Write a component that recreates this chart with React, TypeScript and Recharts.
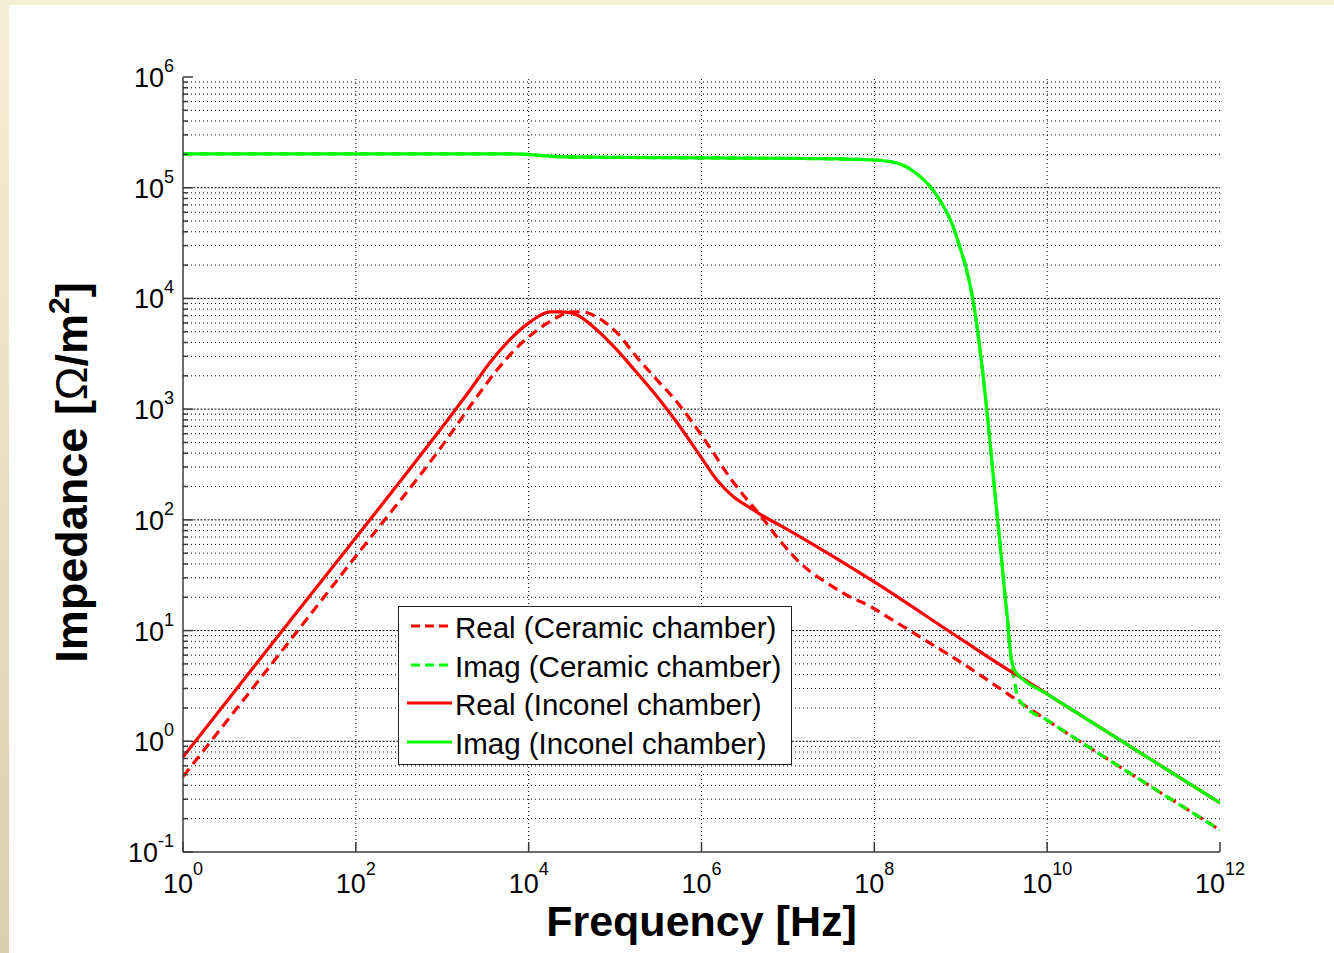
import React from 'react';
import { LineChart, Line, XAxis, YAxis, ReferenceLine, Legend, Label } from 'recharts';

const FONT = '"Liberation Sans", Arial, Helvetica, sans-serif';

// ---- data (frequency in Hz, impedance in Ohm/m^2) ----
const realCeramicFreq = [1, 10, 100, 1e3, 2.51e3, 4.27e3, 7.41e3, 1.26e4, 2.14e4, 3.02e4, 4.27e4, 6.17e4, 1.05e5, 1.78e5, 3.09e5, 5.25e5, 7.94e5, 1.26e6, 2.14e6, 3.16e6, 4.79e6, 7.94e6, 1.38e7, 1.82e7, 2.82e7, 4.79e7, 8.91e7, 1.51e8, 2.57e8, 4.79e8, 9.77e8, 1.82e9, 4.9e9, 1e10, 1e11, 1e12];
const realCeramicZ = [0.48, 4.7, 47, 468, 1290, 2240, 3630, 5190, 6760, 7550, 7550, 6760, 4900, 2950, 1820, 1150, 750, 447, 240, 162, 110, 66, 41, 34, 27, 20.9, 16.6, 12.9, 10, 7.4, 5.25, 3.8, 2.24, 1.55, 0.49, 0.158];

const imagCeramicFreq = [1, 6.31e3, 2.51e4, 1e5, 1e6, 1e7, 3.98e7, 1e8, 1.82e8, 3.39e8, 4.79e8, 6.31e8, 8.13e8, 9.77e8, 1.17e9, 1.38e9, 2.0e9, 2.51e9, 2.88e9, 3.16e9, 3.47e9, 3.72e9, 4.17e9, 4.57e9, 5.25e9, 1e10, 1e11, 1e12];
const imagCeramicZ = [2.02e5, 2.02e5, 1.9e5, 1.88e5, 1.86e5, 1.84e5, 1.82e5, 1.78e5, 1.67e5, 1.26e5, 9.5e4, 6.8e4, 4.5e4, 2.9e4, 1.8e4, 9.8e3, 1000, 160, 56, 26, 12.6, 6.8, 3.6, 2.5, 2.15, 1.55, 0.49, 0.158];

const realInconelFreq = [1, 10, 100, 1e3, 2.09e3, 3.55e3, 6.03e3, 1.05e4, 1.78e4, 2.51e4, 3.63e4, 6.17e4, 1.05e5, 1.78e5, 3.09e5, 5.25e5, 1e6, 1.51e6, 2.34e6, 3.63e6, 4.79e6, 8.13e6, 1.82e7, 1e8, 1e9, 4.07e9, 4.9e9, 1e10, 1e11, 1e12];
const realInconelZ = [0.72, 7.1, 69, 690, 1480, 2630, 4220, 6170, 7550, 7550, 7080, 5190, 3430, 2140, 1290, 750, 363, 229, 162, 129, 112, 89, 62, 27.5, 8.4, 4.14, 3.8, 2.67, 0.86, 0.277];

const imagInconelFreq = [1, 6.31e3, 2.51e4, 1e5, 1e6, 1e7, 3.98e7, 1e8, 1.82e8, 3.39e8, 4.79e8, 6.31e8, 8.13e8, 9.77e8, 1.17e9, 1.38e9, 2.0e9, 2.51e9, 2.88e9, 3.16e9, 3.47e9, 3.72e9, 4.07e9, 4.47e9, 4.9e9, 1e10, 1e11, 1e12];
const imagInconelZ = [2.02e5, 2.02e5, 1.9e5, 1.88e5, 1.86e5, 1.84e5, 1.82e5, 1.78e5, 1.67e5, 1.26e5, 9.5e4, 6.8e4, 4.5e4, 2.9e4, 1.8e4, 9.8e3, 1000, 160, 56, 26, 12.6, 6.8, 4.6, 4.1, 3.8, 2.67, 0.86, 0.277];

const seriesNames = ['Real (Ceramic chamber)', 'Imag (Ceramic chamber)', 'Real (Inconel chamber)', 'Imag (Inconel chamber)'];
const seriesColors = ['#ff0000', '#00ff00', '#ff0000', '#00ff00'];
const seriesDashed = [true, true, false, false];

const xTicks = [1, 1e2, 1e4, 1e6, 1e8, 1e10, 1e12];
const xTickExp = ['0', '2', '4', '6', '8', '10', '12'];
const yMajor = [0.1, 1, 10, 100, 1e3, 1e4, 1e5, 1e6];
const yTickExp = ['-1', '0', '1', '2', '3', '4', '5', '6'];
const yMinorMult = [2, 3, 4, 5, 6, 7, 8, 9];

const zip = (f: number[], z: number[]) => f.map((v, i) => ({ f: v, z: z[i] }));
const seriesData = [
  zip(realCeramicFreq, realCeramicZ),
  zip(imagCeramicFreq, imagCeramicZ),
  zip(realInconelFreq, realInconelZ),
  zip(imagInconelFreq, imagInconelZ),
];

const yAllTicks: number[] = [];
yMajor.forEach((d, i) => {
  yAllTicks.push(d);
  if (i < yMajor.length - 1) yMinorMult.forEach((m) => yAllTicks.push(d * m));
});
const findIdx = (arr: number[], v: number) => arr.findIndex((a) => Math.abs(a - v) / a < 1e-6);

const AXIS_COLOR = '#3a3a3a';

const BottomTick = (props: any) => {
  const { x, y, payload } = props;
  const i = findIdx(xTicks, payload.value);
  return (
    <g>
      <line x1={x} x2={x} y1={y} y2={y - 10} stroke={AXIS_COLOR} strokeWidth={1.5} />
      <text x={x} y={y + 41} textAnchor="middle" fontFamily={FONT} fontSize={27} fill="#000">
        10<tspan dy={-18} fontSize={18}>{xTickExp[i]}</tspan>
      </text>
    </g>
  );
};

const TopTick = (props: any) => {
  const { x, y } = props;
  return <line x1={x} x2={x} y1={y} y2={y + 10} stroke={AXIS_COLOR} strokeWidth={1.5} />;
};

const LeftTick = (props: any) => {
  const { x, y, payload } = props;
  const i = findIdx(yMajor, payload.value);
  const major = i >= 0;
  return (
    <g>
      <line x1={x} x2={x + (major ? 10 : 5)} y1={y} y2={y} stroke={AXIS_COLOR} strokeWidth={1.5} />
      {major && (
        <text x={x - 9} y={y + 10} textAnchor="end" fontFamily={FONT} fontSize={27} fill="#000">
          10<tspan dy={-15} fontSize={18}>{yTickExp[i]}</tspan>
        </text>
      )}
    </g>
  );
};

const RightTick = (props: any) => {
  const { x, y, payload } = props;
  const major = findIdx(yMajor, payload.value) >= 0;
  return <line x1={x} x2={x - (major ? 10 : 5)} y1={y} y2={y} stroke={AXIS_COLOR} strokeWidth={1.5} />;
};

const XTitle = (props: any) => {
  const vb = props.viewBox || { x: 0, y: 0, width: 0, height: 0 };
  return (
    <text x={vb.x + vb.width / 2} y={vb.y + 84} textAnchor="middle" fontFamily={FONT} fontWeight="bold" fontSize={43} fill="#000">
      Frequency [Hz]
    </text>
  );
};

const YTitle = (props: any) => {
  const vb = props.viewBox || { x: 0, y: 0, width: 0, height: 0 };
  const cx = vb.x - 16;
  const cy = vb.y + vb.height / 2 + 8;
  return (
    <text x={cx} y={cy} transform={`rotate(-90 ${cx} ${cy})`} textAnchor="middle" fontFamily={FONT} fontWeight="bold" fontSize={45} fill="#000">
      Impedance [<tspan fontWeight="normal">Ω</tspan>/m<tspan dy={-18} fontSize={30}>2</tspan><tspan dy={18}>]</tspan>
    </text>
  );
};

const LegendBox = () => (
  <div
    style={{
      width: 394,
      height: 159,
      boxSizing: 'border-box',
      border: '1.5px solid #222',
      background: '#fff',
      paddingTop: 2,
      fontFamily: FONT,
      fontSize: 29.5,
      color: '#000',
    }}
  >
    {seriesNames.map((name, i) => (
      <div key={name} style={{ height: 38.5, position: 'relative', whiteSpace: 'nowrap' }}>
        <svg width={56} height={38} style={{ position: 'absolute', left: 0, top: 0 }}>
          <line
            x1={seriesDashed[i] ? 12 : 8}
            x2={53}
            y1={17}
            y2={17}
            stroke={seriesColors[i]}
            strokeWidth={3}
            strokeDasharray={seriesDashed[i] ? '9 5' : undefined}
          />
        </svg>
        <span style={{ position: 'absolute', left: 56, top: 0, lineHeight: '38px' }}>{name}</span>
      </div>
    ))}
  </div>
);

export default function App() {
  return (
    <div
      style={{
        position: 'absolute',
        left: 0,
        top: 0,
        width: 1334,
        height: 953,
        background: 'linear-gradient(to bottom, #f7eed6, #dccfae)',
        overflow: 'hidden',
      }}
    >
      <div style={{ position: 'absolute', left: 9, top: 5, width: 1325, height: 948, background: '#fff' }}>
        <LineChart width={1325} height={948} margin={{ top: 72, right: 114, bottom: 41, left: 94 }}>
          <XAxis
            xAxisId={0}
            dataKey="f"
            type="number"
            scale="log"
            domain={[1, 1e12]}
            allowDataOverflow
            ticks={xTicks}
            interval={0}
            height={60}
            tickSize={0}
            tickMargin={0}
            tick={<BottomTick />}
            axisLine={{ stroke: AXIS_COLOR, strokeWidth: 1.5 }}
            tickLine={false}
          >
            <Label content={<XTitle />} />
          </XAxis>
          <XAxis
            xAxisId="top"
            orientation="top"
            dataKey="f"
            type="number"
            scale="log"
            domain={[1, 1e12]}
            allowDataOverflow
            ticks={xTicks}
            interval={0}
            height={0}
            tickSize={0}
            tickMargin={0}
            tick={<TopTick />}
            axisLine={{ stroke: AXIS_COLOR, strokeWidth: 1.5 }}
            tickLine={false}
          />
          <YAxis
            yAxisId={0}
            type="number"
            scale="log"
            domain={[0.1, 1e6]}
            allowDataOverflow
            ticks={yAllTicks}
            interval={0}
            width={80}
            tickSize={0}
            tickMargin={0}
            tick={<LeftTick />}
            axisLine={{ stroke: AXIS_COLOR, strokeWidth: 1.5 }}
            tickLine={false}
          >
            <Label content={<YTitle />} />
          </YAxis>
          <YAxis
            yAxisId="right"
            orientation="right"
            type="number"
            scale="log"
            domain={[0.1, 1e6]}
            allowDataOverflow
            ticks={yAllTicks}
            interval={0}
            width={0}
            tickSize={0}
            tickMargin={0}
            tick={<RightTick />}
            axisLine={{ stroke: AXIS_COLOR, strokeWidth: 1.5 }}
            tickLine={false}
          />
          {yAllTicks
            .filter((v) => v > 0.1 && v < 1e6)
            .map((v) => (
              <ReferenceLine
                key={'gy' + v}
                y={v}
                xAxisId={0}
                yAxisId={0}
                stroke="#000"
                strokeWidth={1}
                strokeDasharray={findIdx(yMajor, v) >= 0 ? '2 1.5' : '1 3'}
              />
            ))}
          {xTicks
            .filter((v) => v > 1 && v < 1e12)
            .map((v) => (
              <ReferenceLine key={'gx' + v} x={v} xAxisId={0} yAxisId={0} stroke="#000" strokeWidth={1} strokeDasharray="1 3" />
            ))}
          {seriesData.map((d, i) => (
            <Line
              key={seriesNames[i]}
              name={seriesNames[i]}
              data={d}
              dataKey="z"
              xAxisId={0}
              yAxisId={0}
              type="monotone"
              stroke={seriesColors[i]}
              strokeWidth={3.2}
              strokeDasharray={seriesDashed[i] ? '10 6' : undefined}
              dot={false}
              activeDot={false}
              isAnimationActive={false}
            />
          ))}
          <Legend
            layout="vertical"
            align="center"
            verticalAlign="middle"
            content={<LegendBox />}
            wrapperStyle={{ left: 389, top: 601, width: 394, height: 159 }}
          />
        </LineChart>
      </div>
    </div>
  );
}
